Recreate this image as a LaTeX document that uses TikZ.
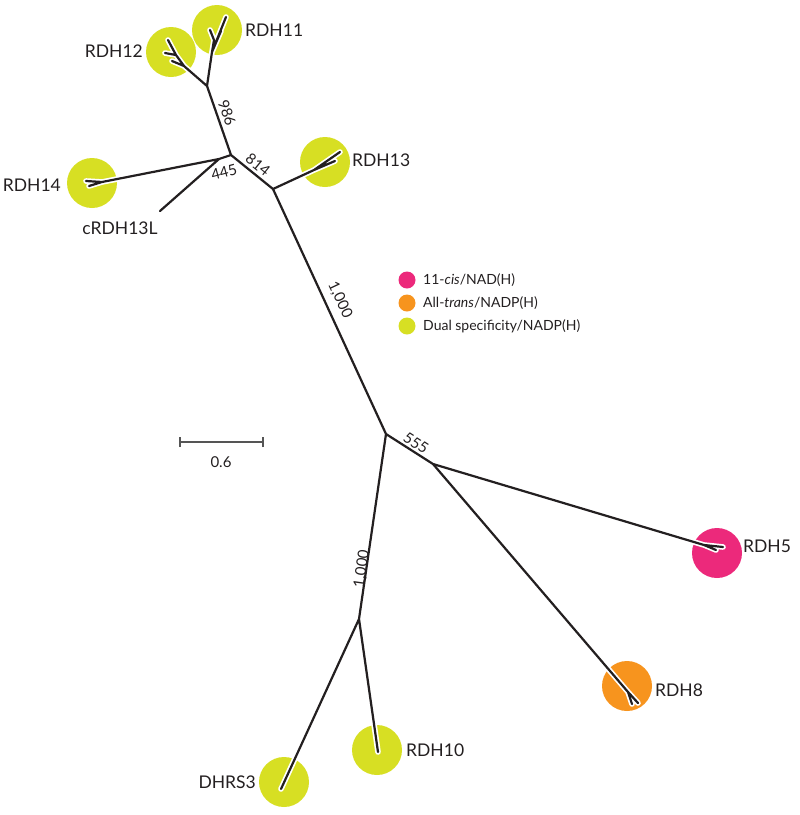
\documentclass[tikz,border=0pt]{standalone}
\usepackage{fontspec}
\setmainfont{Lato}
\definecolor{pinkc}{HTML}{EC297B}
\definecolor{orangec}{HTML}{F7941E}
\definecolor{yellowc}{HTML}{D7DF23}
\definecolor{ink}{HTML}{231F20}
\definecolor{scalegray}{HTML}{555555}
\newcommand\treeedges[1]{%
  \draw[#1] (G)--(A) (G)--(s14) (s14)--(t14a) (s14)--(t14b) (G)--(cR);
  \draw[#1] (A)--(B) (B)--(s12) (s12)--(m12) (m12)--(t12a) (m12)--(t12b) (s12)--(t12c);
  \draw[#1] (B)--(s11) (s11)--(t11a) (s11)--(m11) (m11)--(t11b) (s11)--(t11c);
  \draw[#1] (A)--(C) (C)--(s13) (s13)--(t13a) (s13)--(t13b) (s13)--(t13c);
  \draw[#1] (C)--(D) (D)--(E) (E)--(s5) (s5)--(t5a) (s5)--(t5b);
  \draw[#1] (E)--(s8) (s8)--(t8a) (s8)--(t8b);
  \draw[#1] (D)--(F) (F)--(t10) (F)--(t3);
}
\begin{document}
\begin{tikzpicture}[x=1pt,y=-1pt,
  halo/.style={line width=5.6pt,white,line cap=round,line join=round},
  branch/.style={line width=2.2pt,ink,line cap=round,line join=round},
  dot/.style={circle,inner sep=0pt,minimum size=50pt},
  leaflabel/.style={font=\fontsize{17.5}{20}\selectfont,text=ink,inner sep=0pt},
  boot/.style={font=\fontsize{15}{17}\selectfont,text=ink,inner sep=0pt},
  legtext/.style={font=\fontsize{14}{16}\selectfont,text=ink,inner sep=0pt,anchor=west},
  legdot/.style={circle,inner sep=0pt,minimum size=17pt}]
\useasboundingbox (0,0) rectangle (800,815);
% internal nodes
\coordinate (A) at (231,155);
\coordinate (B) at (207,86);
\coordinate (C) at (273,189);
\coordinate (G) at (219,159);
\coordinate (D) at (386,434);
\coordinate (E) at (433,464);
\coordinate (F) at (359,619);
% leaves
\coordinate (cR) at (160,211);
\coordinate (s14) at (102,182);
\coordinate (t14a) at (86,181);
\coordinate (t14b) at (89,186);
\coordinate (s12) at (184,66);
\coordinate (m12) at (176,55);
\coordinate (t12a) at (168,40);
\coordinate (t12b) at (165,53);
\coordinate (t12c) at (172,61);
\coordinate (s11) at (212,52);
\coordinate (t11a) at (226,17);
\coordinate (m11) at (214,40);
\coordinate (t11b) at (210,30);
\coordinate (t11c) at (221,31);
\coordinate (s13) at (314,170);
\coordinate (t13a) at (340,152);
\coordinate (t13b) at (335,161);
\coordinate (t13c) at (326,164);
\coordinate (s5) at (704,545);
\coordinate (t5a) at (723,547);
\coordinate (t5b) at (716,550);
\coordinate (s8) at (628,692);
\coordinate (t8a) at (638,703);
\coordinate (t8b) at (632,704);
\coordinate (t10) at (378,752);
\coordinate (t3) at (281,789);
% coloured circles
\node[dot,fill=yellowc] (c14) at (92,183) {};
\node[dot,fill=yellowc] (c12) at (171,52) {};
\node[dot,fill=yellowc] (c11) at (217,30) {};
\node[dot,fill=yellowc] (c13) at (325,162) {};
\node[dot,fill=pinkc] (c5) at (717,553) {};
\node[dot,fill=orangec] (c8) at (627,686) {};
\node[dot,fill=yellowc] (c10) at (377,750) {};
\node[dot,fill=yellowc] (c3) at (284,782) {};
% tree
\treeedges{halo}
\treeedges{branch}
% leaf labels
\node[leaflabel,anchor=east] (l12) at (143,51) {RDH12};
\node[leaflabel,anchor=west] (l11) at (245,30) {RDH11};
\node[leaflabel,anchor=west] (l13) at (352,160) {RDH13};
\node[leaflabel,anchor=east] (l14) at (61,185) {RDH14};
\node[leaflabel] (lcR) at (120,228) {cRDH13L};
\node[leaflabel,anchor=west] (l5) at (743,546) {RDH5};
\node[leaflabel,anchor=west] (l8) at (655,690) {RDH8};
\node[leaflabel,anchor=west] (l10) at (406,750) {RDH10};
\node[leaflabel,anchor=east] (l3) at (256,782) {DHRS3};
% bootstrap labels
\node[boot,rotate=-71] (b986) at (227,113) {986};
\node[boot,rotate=-39] (b814) at (258,165) {814};
\node[boot,rotate=15] (b445) at (224,172) {445};
\node[boot,rotate=-65] (b1000a) at (340,300) {1,000};
\node[boot,rotate=-33] (b555) at (416,443) {555};
\node[boot,rotate=82] (b1000b) at (362,569) {1,000};
% legend
\node[legdot,fill=pinkc] (lg1) at (407,280) {};
\node[legdot,fill=orangec] (lg2) at (407,303) {};
\node[legdot,fill=yellowc] (lg3) at (407,326) {};
\node[legtext] (lt1) at (423,280) {11-\textit{cis}/NAD(H)};
\node[legtext] (lt2) at (423,303) {All-\textit{trans}/NADP(H)};
\node[legtext] (lt3) at (423,326) {Dual specificity/NADP(H)};
% scale bar
\coordinate (sb1) at (180,442);
\coordinate (sb2) at (263,442);
\draw[scalegray,line width=1.3pt] (sb1)--(sb2);
\draw[scalegray,line width=1.3pt] ([yshift=-5pt]sb1)--([yshift=5pt]sb1);
\draw[scalegray,line width=1.3pt] ([yshift=-5pt]sb2)--([yshift=5pt]sb2);
\node[boot] (sbl) at (221,462) {0.6};
\end{tikzpicture}
\end{document}
